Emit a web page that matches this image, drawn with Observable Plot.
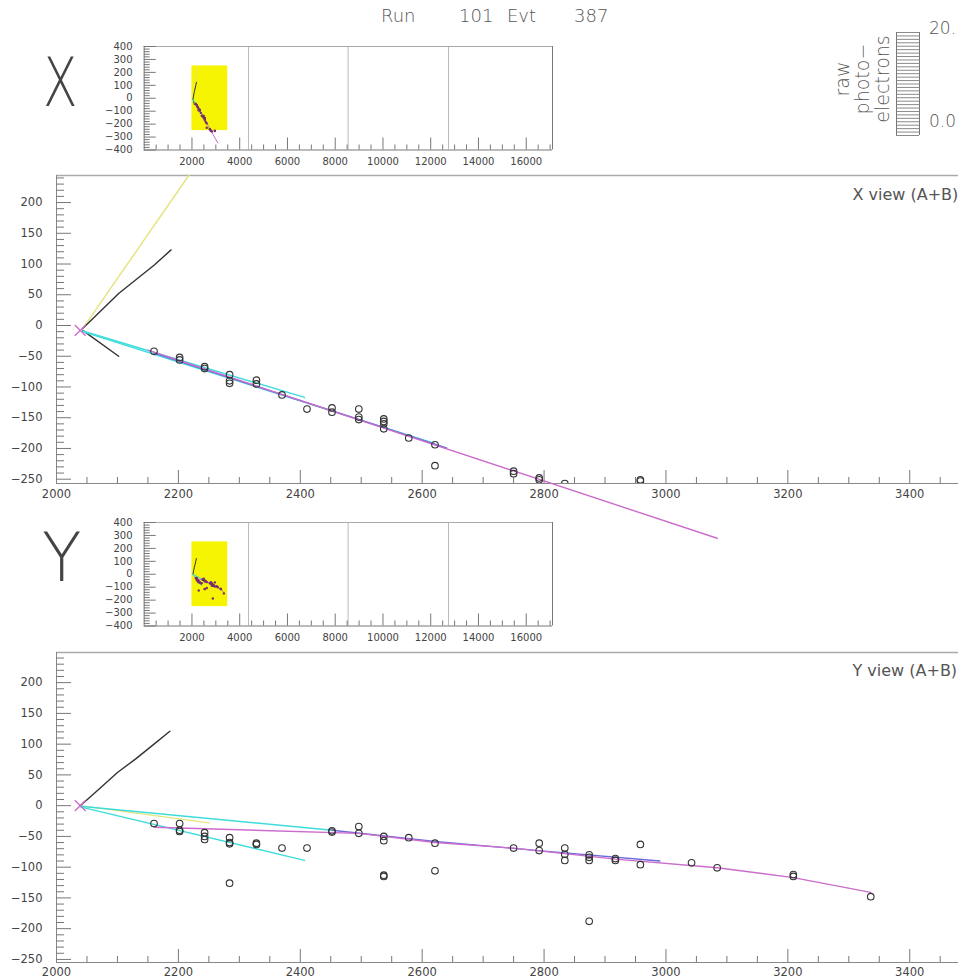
<!DOCTYPE html>
<html><head><meta charset="utf-8">
<script src="https://cdn.jsdelivr.net/npm/d3@7"></script>
<script src="https://cdn.jsdelivr.net/npm/@observablehq/plot@0.6"></script>
<style>
body{margin:0;background:#fff;overflow:hidden}
#root{position:relative;width:958px;height:979px;overflow:hidden;background:#fff;font-family:"DejaVu Sans",sans-serif;color:#555}
.abs{position:absolute;white-space:pre;line-height:1}
.light{font-family:"DejaVu Sans Light","DejaVu Sans",sans-serif;font-weight:200}
svg{overflow:visible}
</style></head><body><div id="root"></div>
<script>
// ---------------- data ----------------
const runLabel = "Run", runNumber = "101", evtLabel = "Evt", evtNumber = "387";
const viewGlyphs = ["X", "Y"];
const viewLabels = ["X view (A+B)", "Y view (A+B)"];
const legendTitle = ["raw", "photo\u2212", "electrons"];
const legendTicks = ["20.", "0.0"];
const legendRange = [0, 20];

const mainZTicks = [2000, 2200, 2400, 2600, 2800, 3000, 3200, 3400];
const mainTTicks = [200, 150, 100, 50, 0, -50, -100, -150, -200, -250];
const insetZTicks = [2000, 4000, 6000, 8000, 10000, 12000, 14000, 16000];
const insetTTicks = [400, 300, 200, 100, 0, -100, -200, -300, -400];
const moduleEdges = [4370, 8540, 12745];
const zoomWindowZ = [2000, 3500];
const zoomWindowT = [-250, 250];

// X view hits (z, x)
const xHitZ = [2160,2202,2202,2243,2243,2284,2284,2284,2328,2328,2370,2411,2452,2452,2496,2496,2496,2537,2537,2537,2537,2578,2621,2621,2750,2750,2792,2792,2834,2958,2958];
const xHitT = [-42,-52,-56,-67,-70,-80,-90,-94,-89,-95,-113,-136,-134,-141,-136,-149,-153,-152,-156,-160,-168,-183,-194,-228,-237,-241,-248,-251,-257,-251,-253];
// Y view hits (z, y)
const yHitZ = [2160,2202,2202,2202,2243,2243,2243,2284,2284,2284,2284,2328,2328,2370,2411,2452,2452,2496,2496,2537,2537,2537,2537,2578,2621,2621,2750,2792,2792,2834,2834,2834,2874,2874,2874,2874,2917,2917,2958,2958,3042,3084,3209,3209,3336];
const yHitT = [-29,-29,-40,-42,-44,-50,-55,-52,-60,-62,-126,-61,-63,-69,-69,-41,-43,-34,-45,-50,-57,-113,-115,-52,-61,-106,-69,-61,-73,-69,-79,-89,-80,-84,-89,-188,-86,-89,-63,-96,-93,-101,-112,-115,-148];

// X view tracks
const xYellowZ = [2043, 2217],             xYellowT = [-5, 244];
const xBlackZ = [2043, 2102, 2160, 2188],  xBlackT = [-5, 52, 98, 123];
const xBlack2Z = [2043, 2102],             xBlack2T = [-8, -50];
const xCyanZ = [2043, 2407],               xCyanT = [-9, -117];
const xCyan2Z = [2043, 2620],              xCyan2T = [-10, -192];
const xBlueZ = [2160, 2640],               xBlueT = [-45, -199];
const xMagentaZ = [2150, 3084],            xMagentaT = [-40, -346];
const xVertexZ = [2039], xVertexT = [-8];

// Y view tracks
const yBlackZ = [2039, 2070, 2100, 2130, 2160, 2186], yBlackT = [0, 27, 54, 76, 100, 121];
const yYellowZ = [2039, 2250],             yYellowT = [0, -28];
const yCyanZ = [2039, 2452],               yCyanT = [-1, -40];
const yBlueZ = [2452, 2621, 2800, 2990],   yBlueT = [-40, -58, -74, -90];
const yCyan2Z = [2039, 2407],              yCyan2T = [-2, -89];
const yMagentaZ = [2160, 2496, 2621, 2750, 2917, 3084, 3209, 3336];
const yMagentaT = [-35, -45, -60, -69, -87, -101, -117, -141];
const yVertexZ = [2039], yVertexT = [0];

// ---------------- helpers ----------------
const C = {yellow:"#e4e47a", black:"#333333", cyan:"#3fdcdc", blue:"#6b6bdb", magenta:"#cc6ccc"};
const fmt = d3.format("d");
const rows = (zs, ts) => zs.map((z, i) => ({z, t: ts[i]}));
const xTracks = [
  {z:xYellowZ, t:xYellowT, c:C.yellow}, {z:xBlackZ, t:xBlackT, c:C.black}, {z:xBlack2Z, t:xBlack2T, c:C.black},
  {z:xCyanZ, t:xCyanT, c:C.cyan}, {z:xCyan2Z, t:xCyan2T, c:C.cyan}, {z:xBlueZ, t:xBlueT, c:C.blue},
  {z:xMagentaZ, t:xMagentaT, c:C.magenta}];
const yTracks = [
  {z:yYellowZ, t:yYellowT, c:C.yellow}, {z:yBlackZ, t:yBlackT, c:C.black},
  {z:yCyanZ, t:yCyanT, c:C.cyan}, {z:yCyan2Z, t:yCyan2T, c:C.cyan}, {z:yBlueZ, t:yBlueT, c:C.blue},
  {z:yMagentaZ, t:yMagentaT, c:C.magenta}];

const root = document.getElementById("root");
function place(node, left, top) {
  const d = document.createElement("div");
  d.className = "abs"; d.style.left = left + "px"; d.style.top = top + "px";
  d.appendChild(node); root.appendChild(d); return d;
}
function text(str, left, top, size, extra = "") {
  const d = document.createElement("div");
  d.className = "abs light"; d.textContent = str;
  d.style.cssText += `left:${left}px;top:${top}px;font-size:${size}px;` + extra;
  root.appendChild(d); return d;
}

function mainView({hitZ, hitT, tracks, vZ, vT, tDomain, plotH, label, labelDy, tickPad}) {
  const W = 958, ml = 56, mt = 10, mb = 40, plotW = W - ml;
  const minorZ = d3.range(2050, 3480, 50).filter(v => v % 200 !== 0);
  const majorZ = d3.range(2200, 3480, 200);
  const minorT = d3.range(-250, tDomain[1], 10).filter(v => v % 50 !== 0);
  const majorT = d3.range(-250, tDomain[1], 50);
  return Plot.plot({
    width: W, height: mt + plotH + mb,
    marginLeft: ml, marginRight: 0, marginTop: mt, marginBottom: mb,
    x: {domain: [2000, 3480]},
    y: {domain: tDomain},
    style: {overflow: "visible", background: "transparent", color: "#444", fontFamily: "DejaVu Sans, sans-serif"},
    marks: [
      Plot.ruleY([tDomain[1]], {stroke: "#aaa", strokeWidth: 1.5}),
      Plot.ruleX([2000], {stroke: "#888"}),
      Plot.ruleY([tDomain[0]], {stroke: "#888"}),
      Plot.tickX(minorZ, {x: d => d, insetTop: plotH - 6, stroke: "#777"}),
      Plot.tickX(majorZ, {x: d => d, insetTop: plotH - 13, stroke: "#777"}),
      Plot.tickY(minorT, {y: d => d, insetRight: plotW - 8, stroke: "#777"}),
      Plot.tickY(majorT, {y: d => d, insetRight: plotW - 15, stroke: "#777"}),
      Plot.axisX({ticks: mainZTicks, tickSize: 0, tickPadding: tickPad, tickFormat: fmt, fontSize: 11.5, label: null}),
      Plot.axisY({ticks: mainTTicks, tickSize: 0, tickPadding: 14, tickFormat: fmt, fontSize: 11.5, label: null}),
      ...tracks.map(tr => Plot.line(rows(tr.z, tr.t), {x: "z", y: "t", stroke: tr.c, strokeWidth: 1.4})),
      Plot.dot(rows(hitZ, hitT), {x: "z", y: "t", r: 3.3, stroke: "#333", strokeWidth: 1.1, fill: "none", clip: true}),
      Plot.dot(rows(vZ, vT), {x: "z", y: "t", symbol: "times", r: 5, stroke: C.magenta, strokeWidth: 1.4}),
      Plot.text([label], {text: d => d, frameAnchor: "top-left", dx: 796, dy: labelDy, textAnchor: "start", fontSize: 16, fill: "#555"})
    ]
  });
}

function insetView({hitZ, hitT, tracks}) {
  const ml = 143.7, W = 556, mr = 4, mt = 6, plotH = 103.5, mb = 24, plotW = W - ml - mr;
  const minorZ = d3.range(500, 17100, 500).filter(v => v % 2000 !== 0);
  const majorZ = d3.range(2000, 17100, 2000);
  const minorT = d3.range(-400, 401, 20).filter(v => v % 100 !== 0);
  const majorT = d3.range(-400, 401, 100);
  return Plot.plot({
    width: W, height: mt + plotH + mb,
    marginLeft: ml, marginRight: mr, marginTop: mt, marginBottom: mb,
    x: {domain: [0, 17100]},
    y: {domain: [-400, 400]},
    style: {overflow: "visible", background: "transparent", color: "#444", fontFamily: "DejaVu Sans, sans-serif"},
    marks: [
      Plot.rect([0], {x1: zoomWindowZ[0], x2: zoomWindowZ[1], y1: zoomWindowT[0], y2: zoomWindowT[1], fill: "#f6f400"}),
      Plot.ruleX(moduleEdges, {stroke: "#bbb"}),
      Plot.ruleY([400], {stroke: "#aaa"}),
      Plot.ruleX([17100], {stroke: "#777"}),
      Plot.ruleX([0], {stroke: "#777"}),
      Plot.ruleY([-400], {stroke: "#777"}),
      Plot.tickX(minorZ, {x: d => d, insetTop: plotH - 5, stroke: "#777"}),
      Plot.tickX(majorZ, {x: d => d, insetTop: plotH - 12, stroke: "#777"}),
      Plot.tickY(minorT, {y: d => d, insetRight: plotW - 6, stroke: "#777"}),
      Plot.tickY(majorT, {y: d => d, insetRight: plotW - 12, stroke: "#777"}),
      Plot.axisX({ticks: insetZTicks, tickSize: 0, tickPadding: 8, tickFormat: fmt, fontSize: 10, label: null}),
      Plot.axisY({ticks: insetTTicks, tickSize: 0, tickPadding: 11.7, tickFormat: fmt, fontSize: 10, label: null}),
      ...tracks.map(tr => Plot.line(rows(tr.z, tr.t), {x: "z", y: "t", stroke: tr.c, strokeWidth: 1})),
      Plot.dot(rows(hitZ, hitT), {x: "z", y: "t", r: 1.2, fill: "#7a2f6e"})
    ]
  });
}

function legendBox() {
  return Plot.plot({
    width: 25, height: 105, margin: 1,
    x: {domain: [0, 1], axis: null},
    y: {domain: legendRange, axis: null},
    style: {overflow: "visible", background: "transparent"},
    marks: [
      Plot.ruleY(d3.range(legendRange[0], legendRange[1] + 0.001, (legendRange[1] - legendRange[0]) / 30), {stroke: "#8a8a8a"}),
      Plot.ruleX([0, 1], {stroke: "#777"})
    ]
  });
}

// ---------------- layout ----------------
text(runLabel, 381, 7, 18);
text(runNumber, 459, 7, 18);
text(evtLabel, 507, 7, 18);
text(evtNumber, 574, 7, 18);

text(viewGlyphs[0], 43, 49, 68, "transform:scaleX(0.74);transform-origin:0 0;color:#444");
text(viewGlyphs[1], 42, 524, 68, "transform:scaleX(0.95);transform-origin:0 0;color:#444");

place(insetView({hitZ: xHitZ, hitT: xHitT, tracks: xTracks}), 0, 40);
place(insetView({hitZ: yHitZ, hitT: yHitT, tracks: yTracks}), 0, 516);

place(mainView({hitZ: xHitZ, hitT: xHitT, tracks: xTracks, vZ: xVertexZ, vT: xVertexT,
  tDomain: [-257, 244], plotH: 308, label: viewLabels[0], labelDy: 13, tickPad: 6}), 0, 165);
place(mainView({hitZ: yHitZ, hitT: yHitT, tracks: yTracks, vZ: yVertexZ, vT: yVertexT,
  tDomain: [-255, 249], plotH: 310, label: viewLabels[1], labelDy: 12, tickPad: 5}), 0, 642);

// legend
const lt = document.createElement("div");
lt.className = "abs light";
lt.style.cssText += "left:807px;top:49px;width:110px;height:60px;font-size:19px;line-height:20px;text-align:center;white-space:normal;transform:rotate(-90deg);transform-origin:50% 50%;color:#555";
lt.innerHTML = legendTitle.map(s => `<div>${s}</div>`).join("");
root.appendChild(lt);
place(legendBox(), 895, 31);
text(legendTicks[0], 929, 20, 17);
text(legendTicks[1], 929, 113, 17);
</script></body></html>
